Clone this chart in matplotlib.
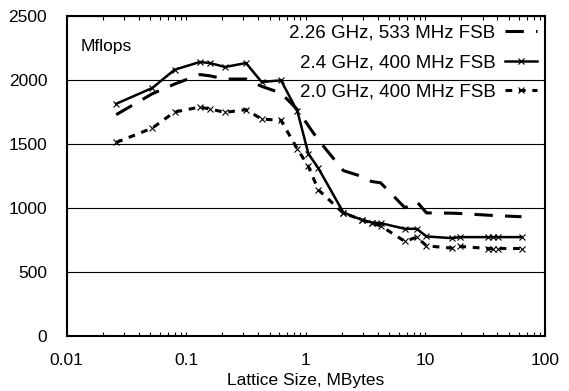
import numpy as np
import matplotlib
matplotlib.use("Agg")
import matplotlib.pyplot as plt
from matplotlib.ticker import LogLocator, FixedLocator, NullFormatter

plt.rcParams['font.family'] = ['Liberation Sans', 'DejaVu Sans']

# lattice sizes, MBytes
size = [0.026, 0.052, 0.080, 0.130, 0.158, 0.211, 0.316, 0.427, 0.62, 0.85,
        1.05, 1.27, 2.06, 2.93, 3.55, 4.22, 6.74, 8.44, 10.2, 16.6, 19.6,
        33.5, 36.9, 40.6, 63.5]

mf_226_533 = [1727, 1890, 1966, 2040, 2030, 2005, 2005, 1948, 1896, 1766,
              1640, 1530, 1290, 1245, 1205, 1195, 1000, 1049, 960, 958, 955,
              942, 940, 938, 930]
mf_24_400 = [1812, 1935, 2078, 2138, 2130, 2099, 2130, 1982, 1995, 1753,
             1422, 1310, 963, 906, 885, 880, 836, 836, 776, 763, 771,
             771, 771, 771, 771]
mf_20_400 = [1510, 1622, 1748, 1786, 1771, 1745, 1766, 1693, 1682, 1459,
             1323, 1141, 958, 906, 880, 859, 737, 771, 703, 685, 698,
             682, 682, 682, 682]

labels = ['2.26 GHz, 533 MHz FSB', '2.4 GHz, 400 MHz FSB', '2.0 GHz, 400 MHz FSB']

fig = plt.figure(figsize=(5.69, 3.91), dpi=100)
ax = fig.add_axes([0.117, 0.141, 0.841, 0.819])

ax.plot(size, mf_226_533, color='black', lw=2.2, dashes=(6, 4), label=labels[0])
ax.plot(size, mf_24_400, color='black', lw=1.8, marker='x', ms=4, mew=0.8,
        label=labels[1])
ax.plot(size, mf_20_400, color='black', lw=2.2, dashes=(2.2, 2.2), marker='x',
        ms=4, mew=0.8, label=labels[2])

ax.set_xscale('log')
ax.set_xlim(0.01, 100)
ax.set_ylim(0, 2500)
ax.set_yticks(np.arange(0, 2501, 500))
ax.yaxis.grid(True, color='black', lw=0.8)
ax.set_axisbelow(True)

ax.xaxis.set_major_locator(FixedLocator([0.01, 0.1, 1, 10, 100]))
ax.set_xticklabels(['0.01', '0.1', '1', '10', '100'])
ax.xaxis.set_minor_locator(LogLocator(base=10, subs=np.arange(2, 10)))
ax.xaxis.set_minor_formatter(NullFormatter())
ax.tick_params(axis='x', which='both', direction='in', top=True, length=3,
               width=0.8, labelsize=12.5, pad=12)
ax.tick_params(axis='y', length=0, labelsize=12.5, pad=14)
for sp in ax.spines.values():
    sp.set_linewidth(1.5)

ax.set_xlabel('Lattice Size, MBytes', fontsize=12.5, labelpad=4)
ax.text(0.03, 0.905, 'Mflops', transform=ax.transAxes, fontsize=12.5,
        va='center', ha='left')

leg = ax.legend(loc='upper right', frameon=False, markerfirst=False,
                fontsize=13.5, handlelength=1.7, handletextpad=0.5,
                labelspacing=0.68, borderaxespad=0.1, borderpad=0.35)
for t in leg.get_texts():
    t.set_ha('right')

fig.savefig('out.png', dpi=100)
